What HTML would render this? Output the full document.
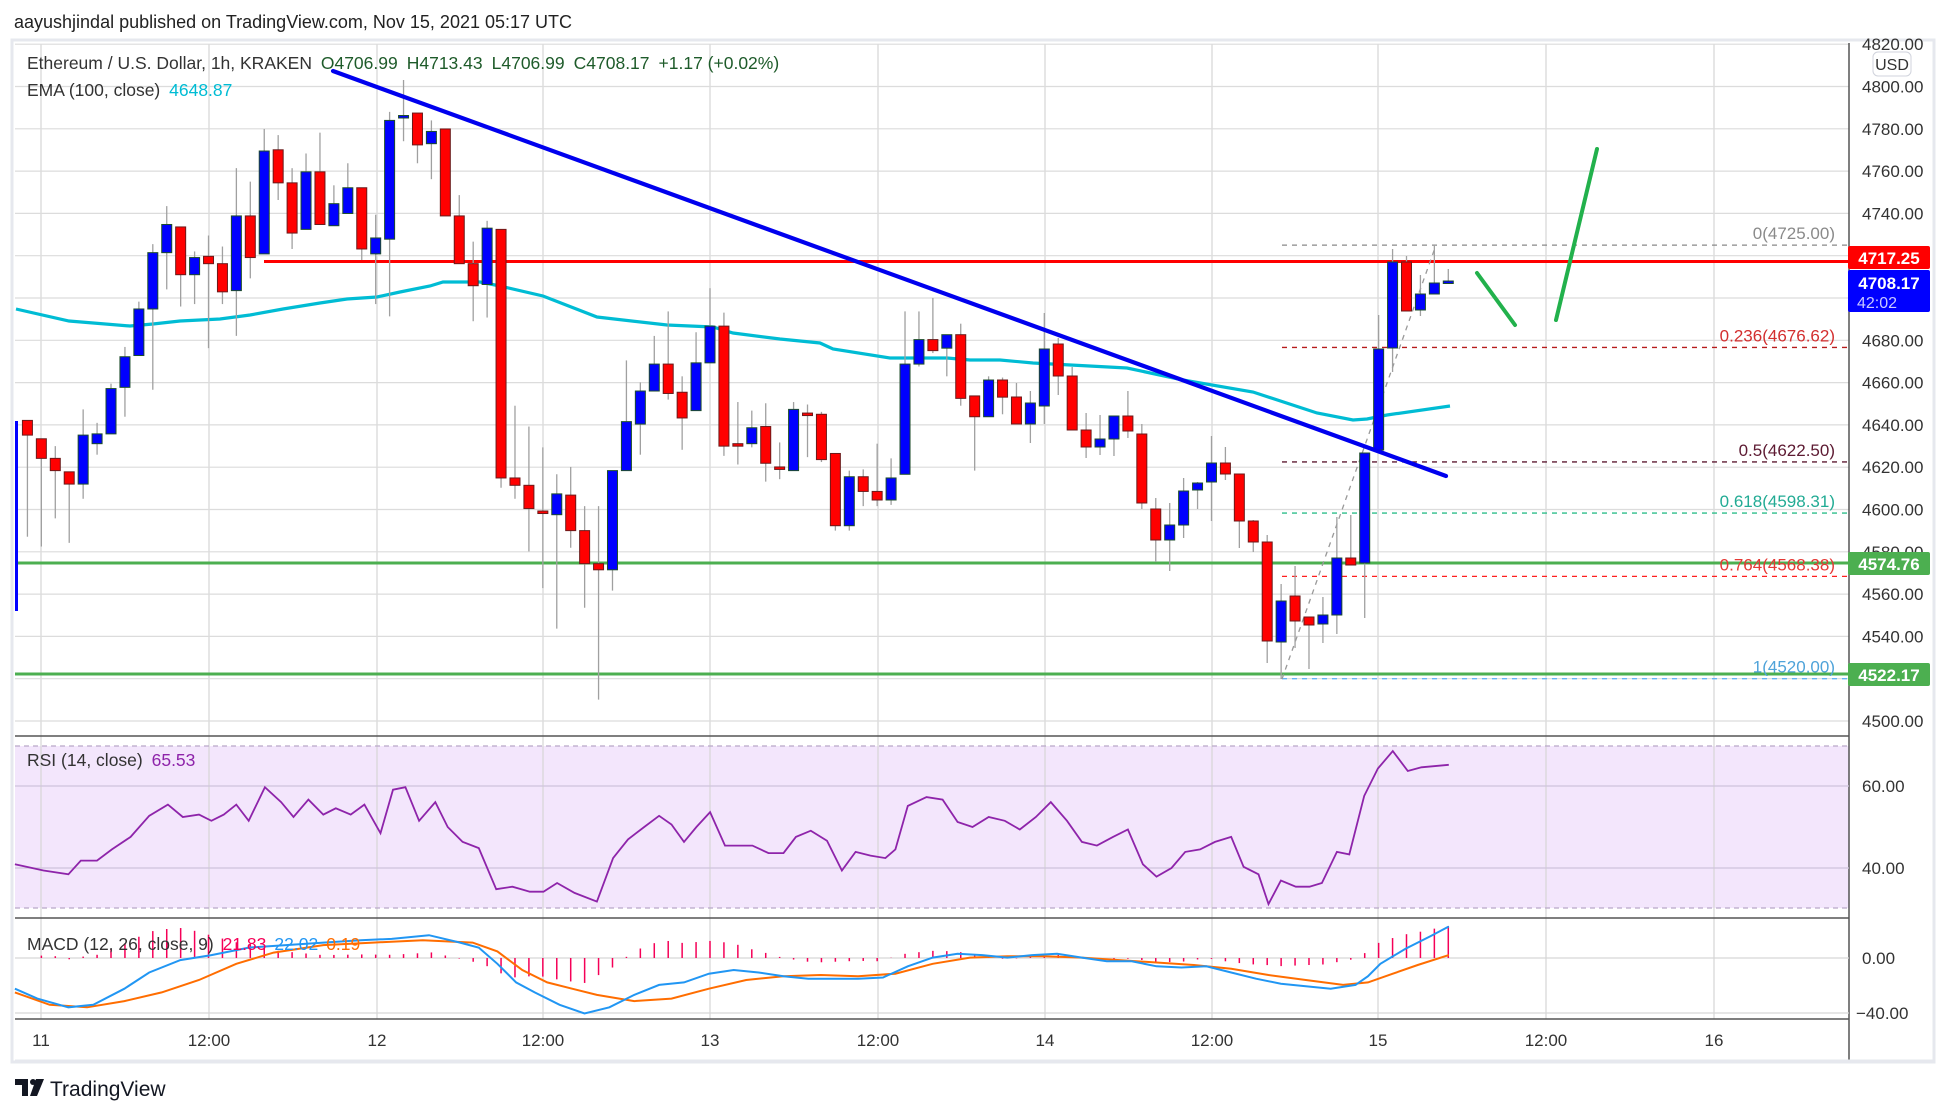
<!DOCTYPE html>
<html><head><meta charset="utf-8"><style>
html,body{margin:0;padding:0;background:#fff;width:1950px;height:1114px;overflow:hidden}
svg{display:block;font-family:"Liberation Sans","DejaVu Sans",sans-serif}
</style></head><body>
<svg id="s" width="1950" height="1114" viewBox="0 0 1950 1114" xmlns="http://www.w3.org/2000/svg"></svg>
<script>
const S=document.getElementById('s');let h='';
const PY=p=>86.5+(4800-p)*2.115;
const L=15,R=1849;
h+=`<rect x="0" y="0" width="1950" height="1114" fill="#fff"/>`;
h+=`<rect x="${L-3}" y="40" width="${1934-L+3}" height="1022" fill="none" stroke="#e6e8ee" stroke-width="3"/>`;
h+=`<rect x="${L}" y="746" width="${R-L}" height="162" fill="#f3e6fc"/>`;
const tx=[[41,'11'],[209,'12:00'],[377,'12'],[543,'12:00'],[710,'13'],[878,'12:00'],[1045,'14'],[1212,'12:00'],[1378,'15'],[1546,'12:00'],[1714,'16']];
tx.forEach(t=>{h+=`<line x1="${t[0]}" y1="44" x2="${t[0]}" y2="1019" stroke="#d6d6d6" stroke-width="1.2"/>`;
h+=`<text x="${t[0]}" y="1046" font-size="17" fill="#333" text-anchor="middle">${t[1]}</text>`;});
for(let p=4500;p<=4820;p+=20){const y=PY(p);if(y>44)h+=`<line x1="${L}" y1="${y}" x2="${R}" y2="${y}" stroke="#dcdcdc" stroke-width="1.2"/>`;
h+=`<text x="1862" y="${y+6}" font-size="17" fill="#333">${p.toFixed(2)}</text>`;}
[736,918,1019].forEach(y=>h+=`<line x1="${L}" y1="${y}" x2="${R}" y2="${y}" stroke="#555" stroke-width="1.5"/>`);
h+=`<line x1="${R}" y1="43" x2="${R}" y2="1061" stroke="#555" stroke-width="1.5"/>`;
h+=`<line x1="${L}" y1="1061" x2="1934" y2="1061" stroke="#e6e8ee" stroke-width="3"/>`;
[786,868].forEach(y=>h+=`<line x1="${L}" y1="${y}" x2="${R}" y2="${y}" stroke="#cfc4dc" stroke-width="1.2"/>`);
[746,908].forEach(y=>h+=`<line x1="${L}" y1="${y}" x2="${R}" y2="${y}" stroke="#b9a8c8" stroke-width="1.2" stroke-dasharray="5,4"/>`);
h+=`<text x="1862" y="792" font-size="17" fill="#333">60.00</text><text x="1862" y="874" font-size="17" fill="#333">40.00</text>`;
[958,1013].forEach(y=>h+=`<line x1="${L}" y1="${y}" x2="${R}" y2="${y}" stroke="#d6d6d6" stroke-width="1.2"/>`);
h+=`<text x="1862" y="964" font-size="17" fill="#333">0.00</text><text x="1856" y="1019" font-size="17" fill="#333">−40.00</text>`;
h+=`<rect x="1873" y="52" width="38" height="24" rx="5" fill="#fff" stroke="#d0d3dc"/><text x="1892" y="70" font-size="16" fill="#333" text-anchor="middle">USD</text>`;
const ema=[[16,309],[69,321],[130,326],[153,324],[180,321],[220,319],[250,315],[283,309],[320,303],[347,299],[377,297],[400,292],[430,286],[443,282],[480,282],[500,286],[543,296],[597,317],[667,325],[713,327],[733,333],[780,339],[820,343],[833,349],[890,358],[947,358],[970,360],[1000,360],[1033,363],[1127,368],[1183,380],[1253,392],[1317,413],[1353,420],[1367,419],[1387,415],[1450,406]];
h+=`<polyline points="${ema.map(p=>p.join(',')).join(' ')}" fill="none" stroke="#00bcd4" stroke-width="3.2"/>`;
h+=`<line x1="264" y1="261.5" x2="${R}" y2="261.5" stroke="#ff0000" stroke-width="3"/>`;
h+=`<line x1="${L}" y1="563" x2="${R}" y2="563" stroke="#4caf50" stroke-width="3"/>`;
h+=`<line x1="${L}" y1="674" x2="${R}" y2="674" stroke="#4caf50" stroke-width="3"/>`;
const fib=[[4725,'0(4725.00)','#8a8a8a','#888'],[4676.62,'0.236(4676.62)','#d32f2f','#b71c1c'],[4622.5,'0.5(4622.50)','#5d1a32','#5d1a32'],[4598.31,'0.618(4598.31)','#22ab94','#2ebd8a'],[4568.38,'0.764(4568.38)','#e53935','#ff2020'],[4520,'1(4520.00)','#4fa3d9','#64b5f6']];
fib.forEach(f=>{const y=PY(f[0]);h+=`<line x1="1282" y1="${y}" x2="${R}" y2="${y}" stroke="${f[3]}" stroke-width="1.3" stroke-dasharray="5,5"/>`;
h+=`<text x="1835" y="${y-6}" font-size="17" fill="${f[2]}" text-anchor="end">${f[1]}</text>`;});
h+=`<line x1="1282" y1="679" x2="1436" y2="245" stroke="#999" stroke-width="1.3" stroke-dasharray="5,5"/>`;
const T=y=>80+(y-80)*3/2.45;
const C=[
[1,358,370,358,453,'r',1],[2,373,389,373,461,'r',1],[3,389,399,379,438,'r',1],[4,400,410,400,458,'r',1],[5,370,410,349,422,'b',1],[6,369,377,360,386,'b',1],[7,332,369,328,369,'b',1],[8,306,331,298,355,'b',1],[9,267,305,261,305,'b',1],[10,221,267,214,333,'b',1],[11,198,221,183,251,'b',1],[12,200,239,200,265,'r',1],[13,225,239,220,263,'b',1],[14,224,230,207,299,'r',1],[15,230,253,216,263,'r',1],[16,191,252,152,289,'b',1],[17,191,225,163,242,'r',1],[18,138,222,120,222,'b',1],[19,137,164,125,178,'r',1],[20,164,205,152,218,'r',1],[21,155,202,140,202,'b',1],[22,155,198,123,198,'r',1],[23,181,199,166,199,'b',1],[24,168,189,148,189,'b',1],[25,168,218,168,227,'r',1],[26,209,222,190,263,'b',1],[27,113,210,106,273,'b',1],[28,109,111,80,130,'b',1],[29,107,133,107,148,'r',1],[30,122,132,113,161,'b',1],[31,120,191,120,191,'r',1],[32,191,230,174,230,'r',1],[33,230,248,212,277,'r',1],[34,201,247,195,274,'b',1],[35,202,405,202,413,'r',1],[36,405,411,346,422,'r',1],[37,411,430,363,465,'r',1],[38,432,434,380,495,'r',1],[39,418,435,402,528,'b',1],[40,419,448,396,462,'r',1],[41,448,475,428,511,'r',1],[42,475,480,428,586,'r',1],[43,399,480,399,497,'b',1],[44,359,399,309,399,'b',1],[45,334,361,327,386,'b',1],[46,312,334,289,334,'b',1],[47,312,336,269,341,'r',1],[48,335,356,322,382,'r',1],[49,311,350,286,350,'b',1],[50,281,311,250,311,'b',1],[51,281,379,270,387,'r',1],[52,377,379,343,394,'r',1],[53,364,377,350,380,'b',1],[54,363,393,344,408,'r',1],[55,396,398,376,406,'r',1],[56,349,399,343,399,'b',1],[57,352,354,345,388,'r',1],[58,353,390,351,392,'r',1],[59,385,444,385,448,'r',1],[60,404,444,399,448,'b',1],[61,404,416,398,428,'r',1],[62,416,423,377,428,'r',1],[63,405,423,389,427,'b',1],[64,312,402,269,402,'b',1],[65,292,312,269,314,'b',1],[66,292,301,258,303,'r',1],[67,288,299,288,322,'b',1],[68,288,340,279,346,'r',1],[69,338,355,338,399,'r',1],[70,325,355,322,355,'b',1],[71,325,339,323,353,'r',1],
[72,397,424,383,424,'r',0],[73,403,424,391,443,'b',0],[74,349,406,313,424,'b',0],[75,344,376,338,395,'r',0],[76,376,430,367,430,'r',0],[77,430,447,413,458,'r',0],[78,439,447,415,455,'b',0],[79,416,439,416,456,'b',0],[80,416,431,391,438,'r',0],[81,434,503,424,509,'r',0],[82,509,540,498,562,'r',0],[83,525,540,503,571,'b',0],[84,491,525,478,538,'b',0],[85,483,490,482,509,'b',0],[86,463,482,436,521,'b',0],[87,463,474,447,480,'r',0],[88,474,521,474,548,'r',0],[89,521,542,520,552,'r',0],[90,542,641,535,663,'r',0],[91,601,642,584,679,'b',0],[92,596,621,566,648,'r',0],[93,617,625,617,669,'r',0],[94,615,624,597,643,'b',0],[95,558,615,517,634,'b',0],[96,558,565,515,565,'r',0],[97,453,563,453,618,'b',0],[98,349,450,315,450,'b',0],[99,262,348,249,372,'b',0],[100,262,311,256,311,'r',0],[101,294,310,275,316,'b',0],[102,283,294,245,294,'b',0],[103,281,283,269,283,'b',0]];
const X=i=>13.5+13.93*i;
h+=`<rect x="15" y="421" width="3" height="190" fill="#0000ff"/>`;
C.forEach(c=>{let [i,t,b,hi,lo,col,tr]=c;if(tr){t=T(t);b=T(b);hi=T(hi);lo=T(lo);}const x=X(i);
h+=`<line x1="${x}" y1="${hi}" x2="${x}" y2="${lo}" stroke="#a0a0a0" stroke-width="1.3"/>`;
const bh=Math.max(b-t,2.5);h+=`<rect x="${x-5}" y="${t}" width="10" height="${bh}" fill="${col=='r'?'#ff0000':'#0000ff'}" stroke="${col=='r'?'#6b1a1a':'#1d4d2a'}" stroke-width="1"/>`;});
h+=`<line x1="333" y1="71" x2="1446" y2="476" stroke="#0000ee" stroke-width="4.2" stroke-linecap="round"/>`;
h+=`<line x1="1477" y1="273" x2="1515" y2="325" stroke="#22b14c" stroke-width="4" stroke-linecap="round"/>`;
h+=`<line x1="1556" y1="320" x2="1597" y2="149" stroke="#22b14c" stroke-width="4" stroke-linecap="round"/>`;
h+=`<rect x="1848" y="246" width="82" height="23" rx="2" fill="#ff0000"/><text x="1889" y="264" font-size="17" font-weight="bold" fill="#fff" text-anchor="middle">4717.25</text>`;
h+=`<rect x="1848" y="270" width="82" height="42" rx="2" fill="#0000ff"/><text x="1889" y="289" font-size="17" font-weight="bold" fill="#fff" text-anchor="middle">4708.17</text><text x="1877" y="308" font-size="16" fill="#c8c8ff" text-anchor="middle">42:02</text>`;
h+=`<rect x="1848" y="552" width="82" height="23" rx="2" fill="#4caf50"/><text x="1889" y="570" font-size="17" font-weight="bold" fill="#fff" text-anchor="middle">4574.76</text>`;
h+=`<rect x="1848" y="663" width="82" height="23" rx="2" fill="#4caf50"/><text x="1889" y="681" font-size="17" font-weight="bold" fill="#fff" text-anchor="middle">4522.17</text>`;
const rsi=[[12,695],[35,700],[55,703],[65,692],[78,692],[90,683],[105,673],[120,656],[135,647],[147,657],[160,655],[170,660],[180,655],[190,647],[200,660],[213,633],[226,645],[236,657],[248,643],[260,655],[270,650],[282,655],[293,647],[306,670],[316,635],[326,633],[337,660],[350,645],[360,665],[372,677],[385,682],[399,715],[412,713],[426,717],[437,717],[448,710],[462,718],[480,725],[493,690],[505,675],[518,665],[530,656],[540,663],[550,677],[560,665],[571,653],[583,680],[593,680],[605,680],[618,686],[630,686],[640,673],[652,668],[665,676],[677,700],[688,685],[700,688],[712,690],[720,683],[730,648],[745,641],[758,643],[770,661],[782,665],[795,657],[808,660],[820,667],[833,657],[845,645],[858,660],[870,677],[882,680],[895,673],[907,667],[919,695],[930,705],[942,698],[953,685],[965,683],[977,677],[990,673],[1000,697],[1012,703],[1020,727],[1030,708],[1042,713],[1053,713],[1063,710],[1075,685],[1085,687],[1097,640],[1108,618],[1120,604],[1132,620],[1143,617],[1165,615]];
const k=1.2436,P=a=>a.map(p=>(p[0]*k).toFixed(1)+','+(p[1]*k).toFixed(1)).join(' ');
h+=`<polyline points="${P(rsi)}" fill="none" stroke="#8e24aa" stroke-width="1.8"/>`;
const mac=[[12,795],[30,803],[55,810],[75,808],[100,795],[120,782],[145,772],[170,768],[200,762],[230,760],[260,758],[290,756],[315,755],[345,752],[370,758],[385,762],[400,775],[415,790],[430,798],[450,808],[470,815],[490,810],[510,800],[530,792],[550,790],[570,783],[590,780],[610,782],[630,785],[650,787],[670,787],[690,787],[710,786],[730,777],[750,770],[770,767],[790,768],[810,770],[830,768],[850,767],[870,770],[890,773],[910,773],[930,777],[950,778],[970,777],[990,782],[1010,787],[1030,791],[1050,793],[1070,795],[1090,792],[1100,785],[1110,775],[1130,763],[1150,753],[1165,745]];
const sig=[[12,798],[40,808],[70,810],[100,805],[130,798],[160,788],[190,775],[220,766],[260,760],[300,758],[340,756],[380,758],[400,765],[420,780],[440,790],[460,795],[480,800],[510,805],[540,803],[570,795],[600,788],[630,785],[660,784],[690,785],[720,783],[750,775],[780,770],[810,769],[840,769],[870,770],[900,772],[930,774],[960,776],[990,779],[1020,784],[1050,788],[1080,792],[1100,790],[1120,783],[1140,776],[1165,768]];
const interp=(a,x)=>{for(let j=1;j<a.length;j++)if(x<=a[j][0]){const t=(x-a[j-1][0])/(a[j][0]-a[j-1][0]);return a[j-1][1]+t*(a[j][1]-a[j-1][1]);}return a[a.length-1][1];};
for(let i=2;i<=103;i++){const xd=X(i)/k;let d=(interp(sig,xd)-interp(mac,xd))*1.15*k;d=Math.max(-32,Math.min(32,d));const x=X(i);
h+=`<line x1="${x}" y1="958" x2="${x}" y2="${958-d}" stroke="#f50057" stroke-width="1.5"/>`;}
h+=`<polyline points="${P(sig)}" fill="none" stroke="#ff6d00" stroke-width="2"/>`;
h+=`<polyline points="${P(mac)}" fill="none" stroke="#2196f3" stroke-width="2"/>`;
h+=`<text x="14" y="28" font-size="18" fill="#222">aayushjindal published on TradingView.com, Nov 15, 2021 05:17 UTC</text>`;
h+=`<text x="27" y="69" font-size="17.5" fill="#333">Ethereum / U.S. Dollar, 1h, KRAKEN <tspan fill="#1e5b2a" dx="4">O4706.99</tspan><tspan fill="#1e5b2a" dx="9">H4713.43</tspan><tspan fill="#1e5b2a" dx="9">L4706.99</tspan><tspan fill="#1e5b2a" dx="9">C4708.17</tspan><tspan fill="#1e5b2a" dx="9">+1.17 (+0.02%)</tspan></text>`;
h+=`<text x="27" y="96" font-size="17.5" fill="#333">EMA (100, close) <tspan fill="#00bcd4" dx="4">4648.87</tspan></text>`;
h+=`<text x="27" y="766" font-size="17.5" fill="#333">RSI (14, close) <tspan fill="#8e24aa" dx="4">65.53</tspan></text>`;
h+=`<text x="27" y="950" font-size="17.5" fill="#333">MACD (12, 26, close, 9) <tspan fill="#f50057" dx="4">21.83</tspan><tspan fill="#2196f3" dx="8">22.02</tspan><tspan fill="#ff6d00" dx="8">0.19</tspan></text>`;
h+=`<path d="M15 1079h13v17h-6v-11h-7z" fill="#131722"/><circle cx="33" cy="1082" r="3" fill="#131722"/><path d="M36 1079h8l-7 17h-7z" fill="#131722"/>`;
h+=`<text x="50" y="1096" font-size="21" fill="#131722">TradingView</text>`;
S.innerHTML=h;
</script>
</body></html>
